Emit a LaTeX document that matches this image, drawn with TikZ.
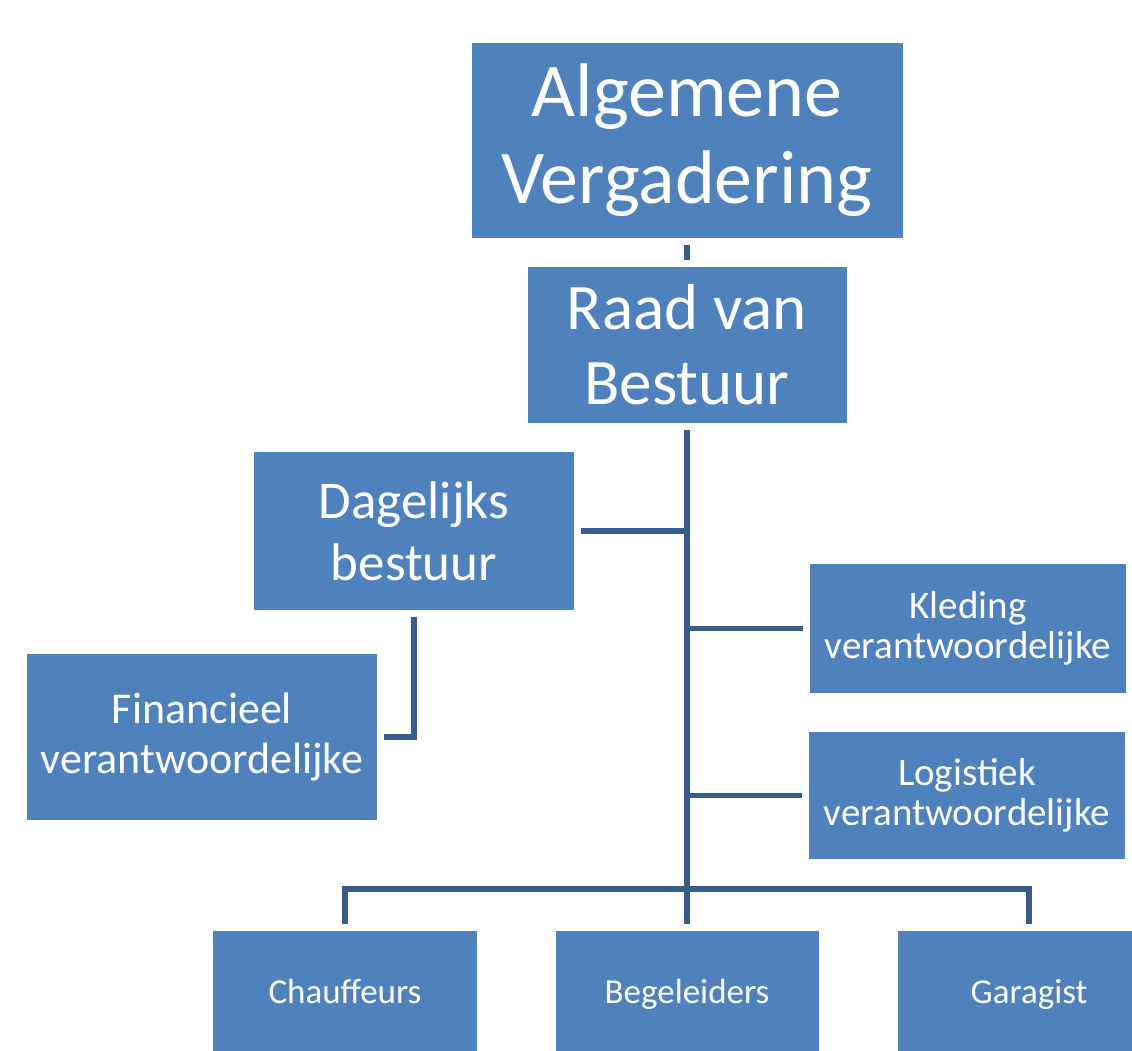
\documentclass[tikz,border=0pt]{standalone}
\usepackage{fontspec}
\setmainfont{Carlito}

\definecolor{vakblauw}{HTML}{4F81BD}
\definecolor{lijnblauw}{HTML}{385D8A}

\tikzset{
    vak/.style={fill=vakblauw, text=white, align=center, inner sep=0pt, outer sep=7pt},
    ondervak/.style={vak, minimum height=130pt, font=\fontsize{35}{40}\selectfont, text height=22.5pt, text depth=7pt},
    lijn/.style={draw=lijnblauw, line width=5.5pt}
}

\begin{document}
\begin{tikzpicture}[x=1pt,y=-1pt]
            \useasboundingbox (0,0) rectangle (1132,1050);
            \clip (0,0) rectangle (1132,1050);
            \fill[white] (0,0) rectangle (1132,1050);

            \node[vak, minimum width=431pt, minimum height=195pt, font=\fontsize{76}{87}\selectfont] (alg) at (687,140.5) {Algemene\\Vergadering};
            \node[vak, minimum width=319pt, minimum height=156pt, font=\fontsize{65}{75}\selectfont] (raad) at (687,345) {Raad van\\Bestuur};
            \node[vak, minimum width=320pt, minimum height=158pt, font=\fontsize{53}{62}\selectfont] (dag) at (414,531) {Dagelijks\\bestuur};
            \node[vak, minimum width=350pt, minimum height=166pt, font=\fontsize{44}{50}\selectfont] (fin) at (202,737) {Financieel\\verantwoordelijke};
            \node[vak, minimum width=316pt, minimum height=129pt, font=\fontsize{39}{40}\selectfont] (kled) at (968,628.5) {Kleding\\verantwoordelijke};
            \node[vak, minimum width=316pt, minimum height=127pt, font=\fontsize{39}{40}\selectfont] (log) at (967,795.5) {Logistiek\\verantwoordelijke};

            \node[ondervak, minimum width=264pt] (chauf) at (345,996) {Chauffeurs};
            \node[ondervak, minimum width=263pt] (beg) at (687,996) {Begeleiders};
            \node[ondervak, minimum width=262pt] (gar) at (1029,996) {Garagist};

            \coordinate (tak) at (687,889);

            \draw[lijn] (alg.south) -- (raad.north);
            \draw[lijn] (raad.south) -- (beg.north);
            \draw[lijn] (dag.east) -- (dag.east -| raad.south);
            \draw[lijn] (kled.west) -- (kled.west -| raad.south);
            \draw[lijn] (log.west) -- (log.west -| raad.south);
            \draw[lijn] (dag.south) |- (fin.east);
            \draw[lijn] (chauf.north) |- (tak) -| (gar.north);
\end{tikzpicture}
\end{document}
